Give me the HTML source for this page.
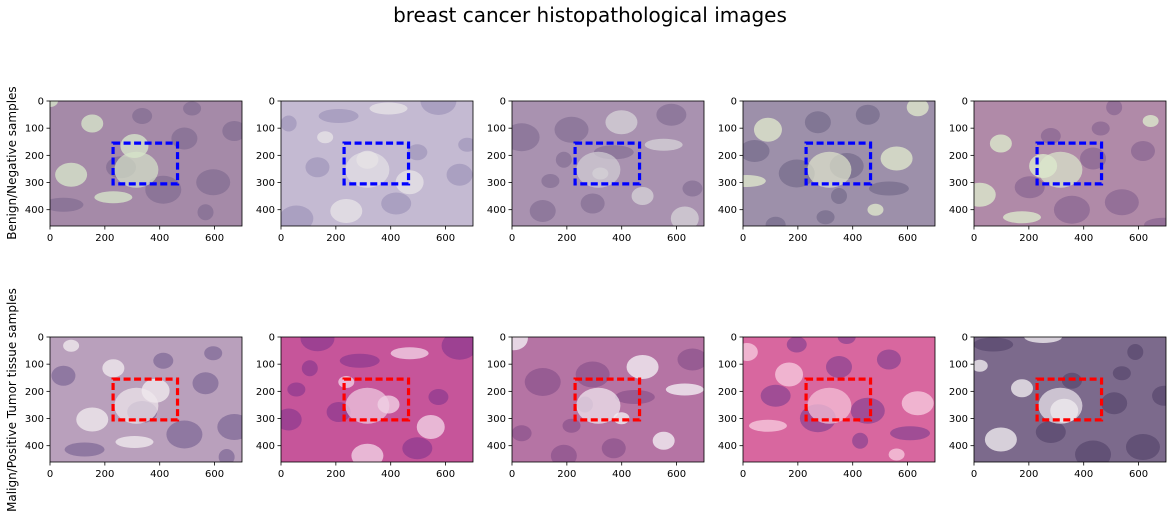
<!DOCTYPE html>
<html><head><meta charset="utf-8"><style>
html,body{margin:0;padding:0;background:#fff;}
svg{display:block;font-family:"DejaVu Sans","Liberation Sans",sans-serif;}
</style></head><body>
<svg id="fig" width="1173" height="520" viewBox="0 0 1173 520">
<text x="590" y="22" text-anchor="middle" font-size="20" fill="#000">breast cancer histopathological images</text>
<text transform="translate(16,163) rotate(-90)" text-anchor="middle" font-size="12">Benign/Negative samples</text>
<text transform="translate(16,400) rotate(-90)" text-anchor="middle" font-size="12">Malign/Positive Tumor tissue samples</text>
</svg>
<script>
const xTicks = [0, 200, 400, 600];
const yTicks = [0, 100, 200, 300, 400];
const imgW = [700];
const imgH = [460];
const roiX = [230, 465];
const roiY = [155, 305];
const rowColors = ['#0000ff', '#ff0000'];

const NS = 'http://www.w3.org/2000/svg';
const svg = document.getElementById('fig');
const colX = [50, 281, 512, 743, 974];
const rowY = [101, 337];
const AW = 192, AH = 125;
// panel appearance: [base, light, dark]
const looks = [
 ['#a58aa8','#d6e4c9','#6e5a86'],['#c4bad2','#e6e2e6','#8c80ac'],['#a992b0','#d3d0d6','#6e5c84'],['#9d90aa','#dfe6cc','#5f567a'],['#b08aa8','#dce8cc','#744f86'],
 ['#b9a0bc','#efe8ec','#5e4680'],['#c6559a','#f0d0e4','#6a2a8a'],['#b574a4','#f2eef2','#74407e'],['#d8679f','#f6c8dc','#5e2e8a'],['#7c6a8c','#eeeaee','#43325a']
];
function mk(tag, attrs, parent){const e=document.createElementNS(NS,tag);for(const k in attrs)e.setAttribute(k,attrs[k]);(parent||svg).appendChild(e);return e;}

for(let r=0;r<2;r++){for(let c=0;c<5;c++){
 const x0=colX[c], y0=rowY[r];
 const sx=v=>x0+v/imgW[0]*AW, sy=v=>y0+v/imgH[0]*AH;
 const g=mk('g',{});
 
 
 const id='cp'+r+c;
 const cp=mk('clipPath',{id:id},g); mk('rect',{x:x0,y:y0,width:AW,height:AH},cp);
 const L=looks[r*5+c];
 const img=mk('g',{'clip-path':'url(#'+id+')'},g);
 
 
 mk('rect',{x:x0,y:y0,width:AW,height:AH,fill:L[0]},img);
 // decorative texture blobs
 for(let i=0;i<14;i++){
  const a=(i*37+r*11+c*23)%100/100, b=(i*53+c*29+r*7)%100/100;
  mk('ellipse',{cx:x0+a*AW,cy:y0+b*AH,rx:8+(i*7%13),ry:6+(i*5%9),fill:i%3===0?L[1]:L[2],opacity:i%3===0?0.8:0.45},img);
 }
 mk('ellipse',{cx:x0+AW*0.45,cy:y0+AH*0.55,rx:22,ry:18,fill:L[1],opacity:0.7},img);
 // ROI rectangle
 const roi=mk('rect',{x:sx(roiX[0]),y:sy(roiY[0]),width:sx(roiX[1])-sx(roiX[0]),height:sy(roiY[1])-sy(roiY[0]),fill:'none',stroke:rowColors[r],'stroke-width':3.2,'stroke-dasharray':'7,3.5'},g);
 
 
 const frame=mk('rect',{x:x0,y:y0,width:AW,height:AH,fill:'none',stroke:'#000','stroke-width':0.8},g);
 
 
 xTicks.forEach(t=>{const X=sx(t);
  mk('line',{x1:X,x2:X,y1:y0+AH,y2:y0+AH+3.5,stroke:'#000','stroke-width':0.8},g);
  const tx=mk('text',{x:X,y:y0+AH+15,'text-anchor':'middle','font-size':10},g);tx.textContent=t;
  
  
 });
 yTicks.forEach(t=>{const Y=sy(t);
  mk('line',{x1:x0-3.5,x2:x0,y1:Y,y2:Y,stroke:'#000','stroke-width':0.8},g);
  const tx=mk('text',{x:x0-6,y:Y+3.5,'text-anchor':'end','font-size':10},g);tx.textContent=t;
  
  
 });
}}
</script>
</body></html>
